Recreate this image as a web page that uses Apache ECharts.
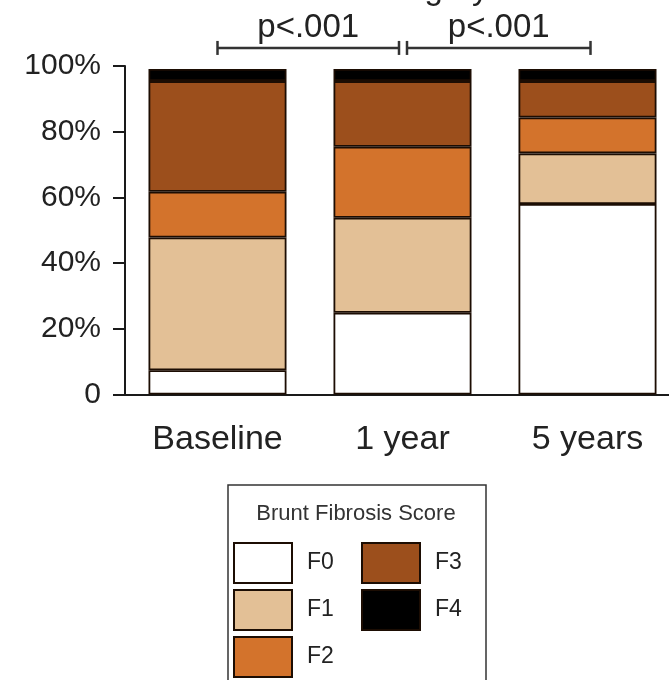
<!DOCTYPE html>
<html>
<head>
<meta charset="utf-8">
<script src="https://cdn.jsdelivr.net/npm/echarts@6/dist/echarts.min.js"></script>
<style>
html,body{margin:0;padding:0;background:#fff;overflow:hidden;width:669px;height:680px;}
#chart{width:680px;height:680px;}
</style>
</head>
<body>
<div id="chart"></div>
<script>
// ---- data ----
var categories = ['Baseline', '1 year', '5 years'];
var seriesNames = ['F0', 'F1', 'F2', 'F3', 'F4'];
var F0 = [7.4, 24.9, 58.0];
var F1 = [40.4, 28.9, 15.4];
var F2 = [13.9, 21.6, 10.9];
var F3 = [33.7, 20.0, 11.1];
var F4 = [3.7, 3.7, 3.7];
var yTicks = [0, 20, 40, 60, 80, 100];
var pLabels = ['p<.001', 'p<.001'];
var chartTitle = 'Fibrosis Category';
var legendTitle = 'Brunt Fibrosis Score';

var colors = ['#ffffff', '#e3c096', '#d3732c', '#9c4f1c', '#000000'];
var values = [F0, F1, F2, F3, F4];
var FONT = '"Liberation Sans", Arial, Helvetica, sans-serif';

var chart = echarts.init(document.getElementById('chart'), null, {renderer: 'canvas'});

var series = seriesNames.map(function (n, i) {
  return {
    name: n,
    type: 'bar',
    stack: 'total',
    barWidth: 138,
    data: values[i],
    itemStyle: {color: colors[i], borderColor: '#1c0d03', borderWidth: 1.8},
    emphasis: {disabled: true},
    animation: false
  };
});

var option = {
  animation: false,
  backgroundColor: '#ffffff',
  grid: {left: 125, right: 0, top: 66, bottom: 285.5, containLabel: false},
  xAxis: {
    type: 'category',
    data: categories,
    axisLine: {show: true, lineStyle: {color: '#1a1a1a', width: 2}},
    axisTick: {show: false},
    axisLabel: {fontFamily: FONT, fontSize: 34, color: '#222', margin: 28}
  },
  yAxis: {
    type: 'value',
    min: 0, max: 100, interval: 20,
    splitLine: {show: false},
    axisLine: {show: true, lineStyle: {color: '#1a1a1a', width: 2}},
    axisTick: {show: true, length: 12, lineStyle: {color: '#1a1a1a', width: 2}},
    axisLabel: {
      fontFamily: FONT, fontSize: 30, color: '#222', margin: 24,
      formatter: function (v) { return yTicks.indexOf(v) < 0 ? '' : (v === 0 ? '0' : v + '%'); }
    }
  },
  legend: [
    {
      data: ['F0', 'F1', 'F2'],
      orient: 'vertical', left: 233, top: 542,
      itemWidth: 58, itemHeight: 40, itemGap: 5, padding: 0,
      selectedMode: false, icon: 'rect',
      textStyle: {fontFamily: FONT, fontSize: 23, color: '#222', padding: [0, 0, 0, 10]}
    },
    {
      data: ['F3', 'F4'],
      orient: 'vertical', left: 361, top: 542,
      itemWidth: 58, itemHeight: 40, itemGap: 5, padding: 0,
      selectedMode: false, icon: 'rect',
      textStyle: {fontFamily: FONT, fontSize: 23, color: '#222', padding: [0, 0, 0, 10]}
    }
  ],
  series: series
};
chart.setOption(option);

// ---- annotations positioned through the axes ----
function px(cat, val) { return chart.convertToPixel({xAxisIndex: 0, yAxisIndex: 0}, [cat, val]); }
var pBase = px(categories[0], 105.5);
var p1 = px(categories[1], 105.5);
var p5 = px(categories[2], 105.5);
var yb = pBase[1];
var brackets = [
  [pBase[0], p1[0] - 3.5],
  [p1[0] + 4.5, p5[0] + 3]
];
var lineStyle = {stroke: '#333', lineWidth: 2.5};
var graphics = [];
brackets.forEach(function (b, i) {
  graphics.push({type: 'line', shape: {x1: b[0], y1: yb, x2: b[1], y2: yb}, style: lineStyle, silent: true});
  graphics.push({type: 'line', shape: {x1: b[0], y1: yb - 7, x2: b[0], y2: yb + 7}, style: lineStyle, silent: true});
  graphics.push({type: 'line', shape: {x1: b[1], y1: yb - 7, x2: b[1], y2: yb + 7}, style: lineStyle, silent: true});
  graphics.push({
    type: 'text', x: (b[0] + b[1]) / 2, y: yb - 4,
    style: {text: pLabels[i], font: '33px ' + FONT, fill: '#222', textAlign: 'center', textVerticalAlign: 'bottom'},
    silent: true
  });
});
// partially visible chart title (cropped at top in reference)
graphics.push({
  type: 'text', x: 230, y: 6,
  style: {text: chartTitle, font: '33px ' + FONT, fill: '#222', textAlign: 'left', textVerticalAlign: 'bottom'},
  silent: true
});
// legend box and title
graphics.push({
  type: 'rect', shape: {x: 228, y: 485, width: 258, height: 230},
  style: {fill: 'none', stroke: '#333', lineWidth: 1.5}, silent: true, z: -1
});
graphics.push({
  type: 'text', x: 356, y: 514,
  style: {text: legendTitle, font: '22px ' + FONT, fill: '#333', textAlign: 'center', textVerticalAlign: 'middle'},
  silent: true
});
chart.setOption({graphic: graphics});
</script>
</body>
</html>
